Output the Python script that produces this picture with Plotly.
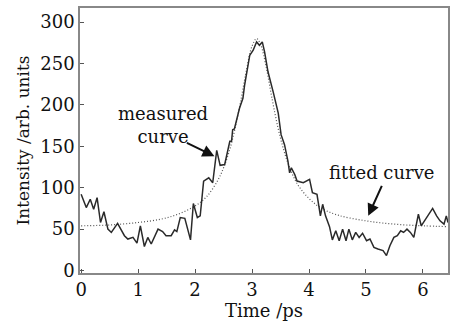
import plotly.graph_objects as go

# Measured curve
meas_x = [0.00, 0.09, 0.16, 0.22, 0.28, 0.34, 0.40, 0.47, 0.53, 0.64, 0.76, 0.82, 0.91, 0.98,
          1.04, 1.11, 1.17, 1.23, 1.35, 1.43, 1.49, 1.58, 1.64, 1.68, 1.74, 1.82, 1.92, 1.97,
          2.04, 2.09, 2.15, 2.24, 2.31, 2.38, 2.44, 2.52, 2.61, 2.64, 2.66, 2.69, 2.78, 2.84,
          2.87, 2.93, 2.96, 3.02, 3.05, 3.08, 3.13, 3.18, 3.22, 3.28, 3.37, 3.46, 3.51, 3.57,
          3.63, 3.66, 3.69, 3.75, 3.79, 3.90, 4.01, 4.06, 4.14, 4.20, 4.24, 4.29, 4.36, 4.41,
          4.47, 4.53, 4.59, 4.65, 4.70, 4.76, 4.82, 4.88, 4.94, 5.01, 5.07, 5.14, 5.21, 5.30,
          5.36, 5.42, 5.49, 5.55, 5.61, 5.66, 5.72, 5.78, 5.84, 5.92, 5.97, 6.03, 6.09, 6.17,
          6.24, 6.30, 6.37, 6.41, 6.44]
meas_y = [92, 76, 86, 74, 88, 58, 71, 50, 46, 57, 42, 38, 40, 33,
          54, 29, 40, 32, 50, 47, 42, 42, 49, 47, 64, 63, 37, 81,
          64, 66, 108, 112, 106, 145, 127, 128, 156, 156, 170, 171, 196, 208,
          224, 248, 260, 266, 272, 276, 272, 276, 264, 240, 216, 190, 164, 152,
          132, 118, 124, 116, 108, 106, 110, 94, 92, 66, 80, 66, 53, 37,
          48, 36, 50, 36, 50, 37, 46, 40, 45, 36, 38, 28, 26, 24,
          18, 30, 40, 42, 48, 46, 50, 46, 40, 68, 54, 60, 66, 75,
          66, 60, 56, 66, 58]

# Fitted curve
fit_x = [0.0, 0.5, 1.0, 1.4, 1.7, 2.0, 2.2, 2.4, 2.5, 2.6, 2.7, 2.8, 2.9, 3.0, 3.08,
         3.15, 3.25, 3.35, 3.45, 3.55, 3.65, 3.8, 4.0, 4.2, 4.5, 5.0, 5.5, 6.0, 6.44]
fit_y = [54, 55, 58, 62, 68, 78, 89, 109, 124, 144, 171, 204, 241, 271, 280,
         273, 245, 208, 174, 147, 126, 104, 87, 76, 67, 60, 56, 54, 53]

x_ticks = [0, 1, 2, 3, 4, 5, 6]
y_ticks = [0, 50, 100, 150, 200, 250, 300]

FONT = "DejaVu Serif"

fig = go.Figure()
fig.add_trace(go.Scatter(x=fit_x, y=fit_y, mode="lines", line_shape="spline",
                         line=dict(color="#555555", width=1.2, dash="1px,2px"), showlegend=False))
fig.add_trace(go.Scatter(x=meas_x, y=meas_y, mode="lines",
                         line=dict(color="#2a2a2a", width=1.5), showlegend=False))

fig.add_annotation(x=2.34, y=138, ax=1.83, ay=155, xref="x", yref="y", axref="x", ayref="y",
                   showarrow=True, arrowhead=2, arrowsize=1.2, arrowwidth=2, arrowcolor="#111111", text="")
fig.add_annotation(x=5.04, y=66, ax=5.29, ay=104, xref="x", yref="y", axref="x", ayref="y",
                   showarrow=True, arrowhead=2, arrowsize=1.2, arrowwidth=2, arrowcolor="#111111", text="")
fig.add_annotation(x=1.43, y=176, xref="x", yref="y", text="measured<br>curve", showarrow=False,
                   font=dict(family=FONT, size=18, color="#111111"), yanchor="middle", align="center")
fig.add_annotation(x=5.28, y=118, xref="x", yref="y", text="fitted curve", showarrow=False,
                   font=dict(family=FONT, size=18, color="#111111"), yanchor="middle")

axis_common = dict(showgrid=False, zeroline=False, showline=True, linecolor="#888888", linewidth=1.5,
                   mirror=True, ticks="inside", ticklen=4, tickcolor="#555555", tickwidth=1,
                   tickfont=dict(family=FONT, size=18, color="#111111"))

fig.update_xaxes(range=[-0.02, 6.44], tickvals=x_ticks,
                 title=dict(text="Time /ps", font=dict(family=FONT, size=18, color="#111111"), standoff=3),
                 **axis_common)
fig.update_yaxes(range=[-3, 317], tickvals=y_ticks,
                 title=dict(text="Intensity /arb. units", font=dict(family=FONT, size=17, color="#111111"), standoff=6),
                 **axis_common)

fig.update_layout(width=457, height=327, margin=dict(l=80, r=9, t=6, b=54),
                  plot_bgcolor="white", paper_bgcolor="white")

fig.write_html("out.html")
